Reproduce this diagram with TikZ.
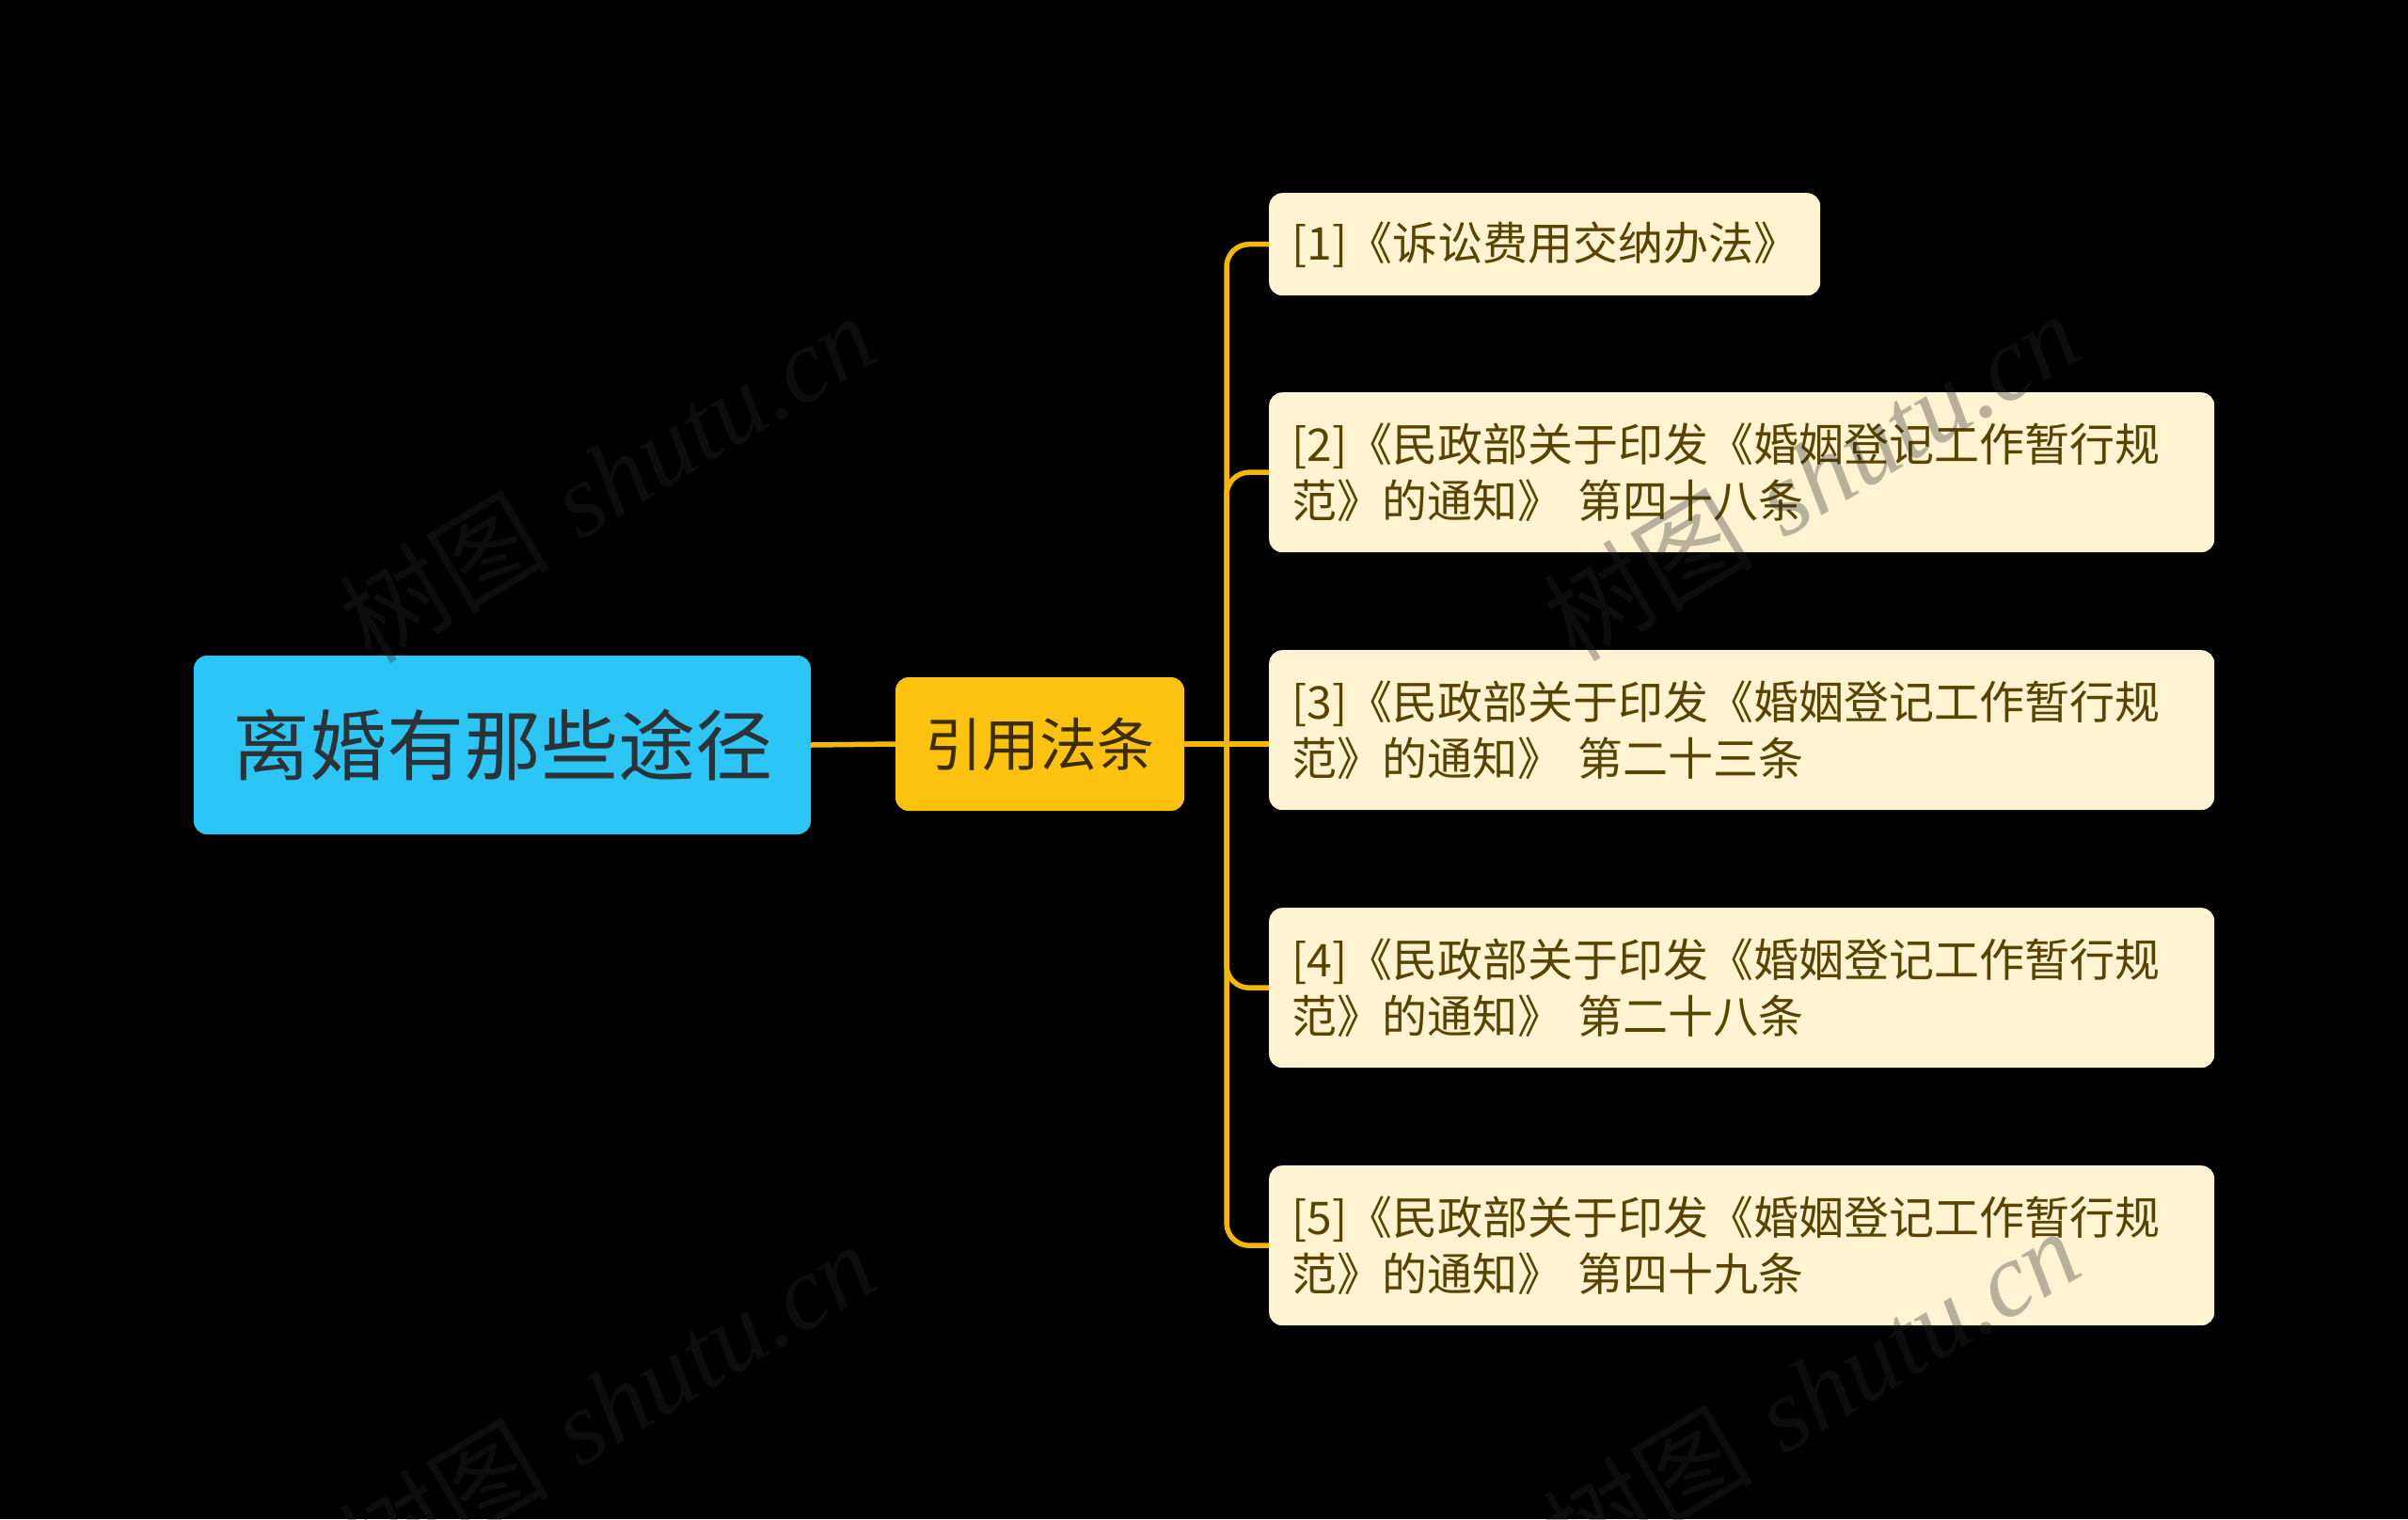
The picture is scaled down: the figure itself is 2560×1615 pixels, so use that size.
\documentclass[tikz,border=0pt]{standalone}
\usepackage{fontspec}
\newfontfamily\cjk{Noto Sans CJK SC}
\newfontfamily\wmlatin{Liberation Serif}
\definecolor{rootc}{RGB}{44,198,246}
\definecolor{roottext}{RGB}{45,50,55}
\definecolor{midc}{RGB}{253,193,16}
\definecolor{midtext}{RGB}{60,45,0}
\definecolor{leafc}{RGB}{255,243,210}
\definecolor{leaftext}{RGB}{88,68,0}
\definecolor{connc}{RGB}{245,183,0}
\definecolor{wmc}{RGB}{40,40,40}
\tikzset{
  rootbox/.style={fill=rootc, rounded corners=14pt, minimum width=656pt, minimum height=190pt, inner sep=0pt, font=\cjk\fontsize{82}{96}\selectfont, text=roottext},
  midbox/.style={fill=midc, rounded corners=14pt, minimum width=307pt, minimum height=142pt, inner sep=0pt, font=\cjk\fontsize{61}{72}\selectfont, text=midtext},
  leafbox/.style={fill=leafc, rounded corners=14pt, anchor=north west, inner xsep=24pt, inner ysep=0pt, align=left, font=\cjk\fontsize{48}{60}\selectfont, text=leaftext},
  wide/.style={minimum width=1005pt, minimum height=170pt, text width=957pt},
  conn/.style={draw=connc, line width=5.5pt},
  wm/.style={text=wmc, opacity=0.33, font=\fontsize{112}{124}\selectfont, inner sep=0pt},
}
\begin{document}
\begin{tikzpicture}[x=1pt,y=-1pt]
\fill[black] (0,0) rectangle (2560,1615);
\useasboundingbox (0,0) rectangle (2560,1615);

\node[rootbox] (root) at (534,792) {离婚有那些途径};
\node[midbox] (mid) at (1105.5,791) {引用法条};

\node[leafbox, minimum width=586pt, minimum height=109pt, text width=538pt] (l1) at (1349,205) {[1]《诉讼费用交纳办法》};
\node[leafbox, wide] (l2) at (1349,417) {[2]《民政部关于印发《婚姻登记工作暂行规\\范》的通知》 第四十八条};
\node[leafbox, wide] (l3) at (1349,691) {[3]《民政部关于印发《婚姻登记工作暂行规\\范》的通知》 第二十三条};
\node[leafbox, wide] (l4) at (1349,965) {[4]《民政部关于印发《婚姻登记工作暂行规\\范》的通知》 第二十八条};
\node[leafbox, wide] (l5) at (1349,1239) {[5]《民政部关于印发《婚姻登记工作暂行规\\范》的通知》 第四十九条};

\coordinate (tr) at (1304,791);
\draw[conn] (root.east) -- (mid.west);
\draw[conn] (mid.east) -- (l3.west |- mid.east);
\draw[conn, rounded corners=24pt] (tr) |- (l1.west);
\draw[conn, rounded corners=24pt] (tr) |- (l2.west);
\draw[conn, rounded corners=24pt] (tr) |- (l4.west);
\draw[conn, rounded corners=24pt] (tr) |- (l5.west);

\node[wm, rotate=31] (w1) at (645,508) {{\cjk 树图} {\wmlatin\itshape shutu.cn}};
\node[wm, rotate=31] (w2) at (1925,506) {{\cjk 树图} {\wmlatin\itshape shutu.cn}};
\node[wm, rotate=31] (w3) at (645,1494) {{\cjk 树图} {\wmlatin\itshape shutu.cn}};
\node[wm, rotate=31] (w4) at (1925,1480) {{\cjk 树图} {\wmlatin\itshape shutu.cn}};
\end{tikzpicture}
\end{document}
